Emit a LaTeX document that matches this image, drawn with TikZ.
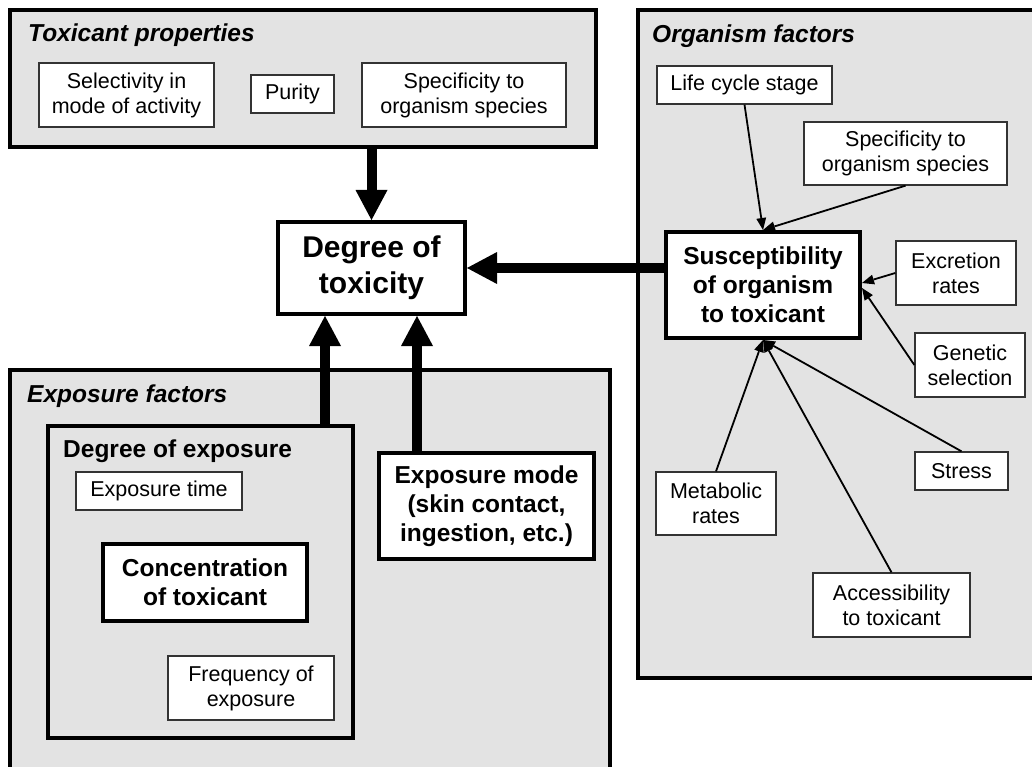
\documentclass[tikz,border=0pt]{standalone}
\usepackage{fontspec}
\setmainfont{Liberation Sans}
\usetikzlibrary{arrows.meta}
\tikzset{
  section/.style={draw, line width=4pt, fill=black!11, inner sep=0pt},
  subsection/.style={draw, line width=3.5pt, fill=black!11, inner sep=0pt},
  factor/.style={draw=black!80, line width=1.3pt, fill=white, align=center, inner sep=0pt,
    font=\fontsize{21.5pt}{25pt}\selectfont},
  keybox/.style={draw, line width=4pt, fill=white, align=center, inner sep=0pt,
    font=\bfseries\fontsize{24.5pt}{29pt}\selectfont},
  sectitle/.style={anchor=base west, inner sep=0pt,
    font=\bfseries\itshape\fontsize{24.5pt}{29pt}\selectfont},
  bigarr/.style={line width=10pt, -{Triangle[length=30pt,width=32pt,line width=0pt]}},
  thinarr/.style={line width=1.8pt, -{Triangle[length=12pt,width=10pt,line width=0pt]}}
}

\begin{document}
\begin{tikzpicture}[x=1pt,y=-1pt]
  \clip (0,0) rectangle (1032,767);

  % sections
  \node[section, minimum width=586pt, minimum height=137pt] (toxprop) at (303,78.5) {};
  \node[section, minimum width=407pt, minimum height=668pt] (orgfac) at (841.5,344) {};
  \node[section, minimum width=600pt, minimum height=430pt] (expfac) at (310,585) {};
  \node[sectitle] at (28,42) {Toxicant properties};
  \node[sectitle] at (652,43) {Organism factors};
  \node[sectitle] at (27,402) {Exposure factors};

  % toxicant properties
  \node[factor, minimum width=175pt, minimum height=64pt] (select) at (126.5,95) {Selectivity in\\mode of activity};
  \node[factor, minimum width=83pt, minimum height=38pt] (purity) at (292.5,94) {Purity};
  \node[factor, minimum width=204pt, minimum height=64pt] (specT) at (464,95) {Specificity to\\organism species};

  % degree of toxicity
  \node[keybox, minimum width=187pt, minimum height=92pt,
    font=\bfseries\fontsize{30pt}{36pt}\selectfont] (tox) at (371.5,268) {Degree of\\toxicity};

  % organism factors
  \node[keybox, minimum width=194pt, minimum height=106pt] (susc) at (763,285) {Susceptibility\\of organism\\to toxicant};
  \node[factor, minimum width=175pt, minimum height=38pt] (life) at (744.5,85) {Life cycle stage};
  \node[factor, minimum width=203pt, minimum height=63pt] (specO) at (905.5,153.5) {Specificity to\\organism species};
  \node[factor, minimum width=120pt, minimum height=64pt] (excr) at (956,273) {Excretion\\rates};
  \node[factor, minimum width=110pt, minimum height=64pt] (genet) at (970,365) {Genetic\\selection};
  \node[factor, minimum width=93pt, minimum height=38pt] (stress) at (961.5,471) {Stress};
  \node[factor, minimum width=120pt, minimum height=63pt] (metab) at (716,503.5) {Metabolic\\rates};
  \node[factor, minimum width=157pt, minimum height=64pt] (access) at (891.5,605) {Accessibility\\to toxicant};

  % exposure factors
  \node[subsection, minimum width=305pt, minimum height=312pt] (degexp) at (200.5,582) {};
  \node[anchor=base west, inner sep=0pt,
    font=\bfseries\fontsize{24.5pt}{29pt}\selectfont] at (63,457) {Degree of exposure};
  \node[factor, minimum width=166pt, minimum height=38pt] (exptime) at (159,491) {Exposure time};
  \node[keybox, minimum width=204pt, minimum height=77pt] (conc) at (205,582.5) {Concentration\\of toxicant};
  \node[factor, minimum width=166pt, minimum height=64pt] (freq) at (251,688) {Frequency of\\exposure};
  \node[keybox, minimum width=215pt, minimum height=106pt] (mode) at (486.5,506) {Exposure mode\\(skin contact,\\ingestion, etc.)};

  % main arrows
  \coordinate (inL) at ([xshift=-46.5pt]tox.south);
  \coordinate (inR) at ([xshift=45.5pt]tox.south);
  \draw[bigarr] (toxprop.south -| tox.north) -- (tox.north);
  \draw[bigarr] (tox.east -| susc.west) -- (tox.east);
  \draw[bigarr] (degexp.north -| inL) -- (inL);
  \draw[bigarr] (mode.north -| inR) -- (inR);

  % organism arrows
  \draw[thinarr] (life.south) -- (susc.north);
  \draw[thinarr] (specO.south) -- (susc.north);
  \draw[thinarr] (excr.west) -- ([yshift=2pt]susc.east);
  \draw[thinarr] (genet.west) -- ([yshift=-3pt]susc.east);
  \foreach \f in {metab,access,stress}
    \draw[thinarr] (\f.north) -- (susc.south);
\end{tikzpicture}
\end{document}
